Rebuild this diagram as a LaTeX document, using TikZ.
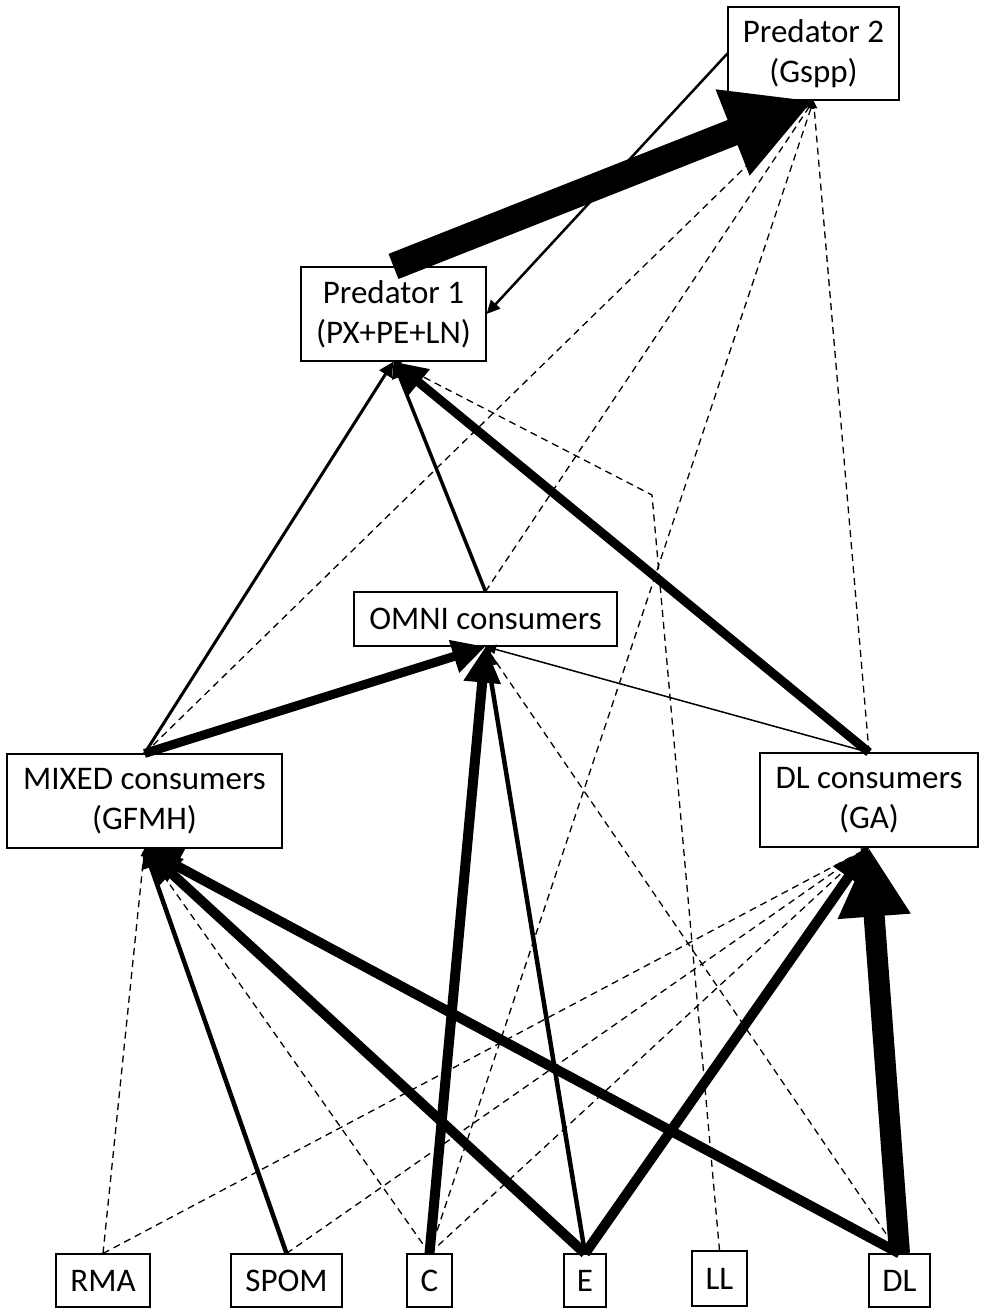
\documentclass[tikz,border=0pt]{standalone}
\usepackage{fontspec}
\setmainfont{Carlito}
\usetikzlibrary{arrows.meta}

\begin{document}
\begin{tikzpicture}[x=1pt,y=-1pt,
  box/.style={draw,line width=1.1pt,inner sep=0pt,align=center,
    font=\fontsize{33}{40}\selectfont},
  flow/.style={-{Triangle[length=6pt 3,width=5pt 3]},line width=#1},
  weak/.style={-{Triangle[length=8pt,width=6pt]},line width=1.3pt,
    dash pattern=on 7pt off 5pt}]
 \useasboundingbox (0,0) rectangle (980,1308);
 \node[box,minimum width=171pt,minimum height=93pt] (pred2) at (813.5,53.5) {Predator 2\\(Gspp)};
 \node[box,minimum width=185pt,minimum height=94pt] (pred1) at (393.5,314) {Predator 1\\(PX+PE+LN)};
 \node[box,minimum width=263pt,minimum height=54pt] (omni) at (485.5,619) {OMNI consumers};
 \node[box,minimum width=275pt,minimum height=94pt] (mixed) at (144.5,801) {MIXED consumers\\(GFMH)};
 \node[box,minimum width=218pt,minimum height=94pt] (ga) at (869,800) {DL consumers\\(GA)};
 \node[box,minimum width=94pt,minimum height=53pt] (rma) at (103,1280.5) {RMA};
 \node[box,minimum width=111pt,minimum height=53pt] (spom) at (286.5,1280.5) {SPOM};
 \node[box,minimum width=45pt,minimum height=53pt] (c) at (429.5,1280.5) {C};
 \node[box,minimum width=42pt,minimum height=53pt] (e) at (585,1280.5) {E};
 \node[box,minimum width=55pt,minimum height=55pt] (ll) at (719.5,1278.5) {LL};
 \node[box,minimum width=61pt,minimum height=53pt] (dl) at (899.5,1280.5) {DL};
 \coordinate (llbend) at (652,495);

 \draw[weak] (mixed.north) -- (pred2.south);
 \draw[weak] (omni.north) -- (pred2.south);
 \draw[weak] (ga.north) -- (pred2.south);
 \draw[weak] (c.north) -- (pred2.south);
 \draw[weak] (ll.north) -- (llbend) -- (pred1.south);
 \draw[weak] (dl.north) -- (omni.south);
 \draw[weak] (rma.north) -- (mixed.south);
 \draw[weak] (c.north) -- (mixed.south);
 \draw[weak] (rma.north) -- (ga.south);
 \draw[weak] (spom.north) -- (ga.south);
 \draw[weak] (c.north) -- (ga.south);

 \draw[flow=27pt] (pred1.north) -- (pred2.south);
 \draw[flow=2.5pt] (pred2.west) -- (pred1.east);
 \draw[flow=3pt] (mixed.north) -- (pred1.south);
 \draw[flow=3.5pt] (omni.north) -- (pred1.south);
 \draw[flow=9pt] (ga.north) -- (pred1.south);
 \draw[flow=9pt] (mixed.north) -- (omni.south);
 \draw[flow=10pt] (c.north) -- (omni.south);
 \draw[flow=4.5pt] (e.north) -- (omni.south);
 \draw[flow=1.5pt] (ga.north) -- (omni.south);
 \draw[flow=4.5pt] (spom.north) -- (mixed.south);
 \draw[flow=10pt] (e.north) -- (mixed.south);
 \draw[flow=10pt] (dl.north) -- (mixed.south);
 \draw[flow=10pt] (e.north) -- (ga.south);
 \draw[flow=21pt] (dl.north) -- (ga.south);
\end{tikzpicture}
\end{document}
